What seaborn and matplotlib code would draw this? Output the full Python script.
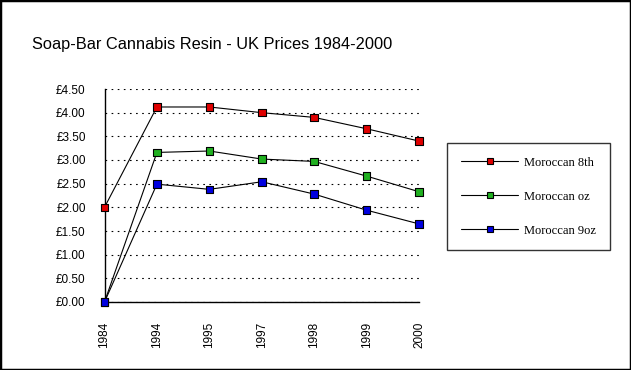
import seaborn as sns
import matplotlib.pyplot as plt
import pandas as pd
from matplotlib.lines import Line2D
from matplotlib.patches import Rectangle

years = ["1984", "1994", "1995", "1997", "1998", "1999", "2000"]
moroccan_8th = [2.00, 4.12, 4.12, 4.00, 3.90, 3.66, 3.40]
moroccan_oz = [0.00, 3.16, 3.19, 3.02, 2.97, 2.66, 2.33]
moroccan_9oz = [0.00, 2.49, 2.38, 2.54, 2.28, 1.94, 1.65]
series_names = ["Moroccan 8th", "Moroccan oz", "Moroccan 9oz"]
colors = ["#e00000", "#20b020", "#0000e0"]

df = pd.DataFrame({
    "year": years * 3,
    "price": moroccan_8th + moroccan_oz + moroccan_9oz,
    "series": [s for s in series_names for _ in years],
})

sns.set_style("white")
plt.rcParams['font.family'] = ['Liberation Sans', 'DejaVu Sans']

fig = plt.figure(figsize=(6.31, 3.70), dpi=100)
ax = fig.add_axes([104.5 / 631, 1 - 302 / 370, (419 - 104.5) / 631, (302 - 89) / 370])

sns.lineplot(data=df, x="year", y="price", units="series", estimator=None,
             color="black", lw=0.8, ax=ax, legend=False, sort=False)
sns.scatterplot(data=df, x="year", y="price", hue="series", palette=colors,
                marker="s", s=30, edgecolor="black", linewidth=0.8,
                ax=ax, legend=False, zorder=3, clip_on=False)

ax.set_xlim(0, len(years) - 1)
ax.set_ylim(0, 4.5)
ax.set_yticks([i * 0.5 for i in range(10)])
ax.set_yticklabels([f"£{i * 0.5:.2f}" for i in range(10)], fontsize=8.5)
ax.set_xticks(range(len(years)))
ax.set_xticklabels(years, rotation=90, fontsize=8.5)
ax.set_xlabel("")
ax.set_ylabel("")
ax.grid(axis="y", color="black", linestyle=(0, (1.5, 4)), lw=0.8)
ax.grid(axis="x", visible=False)
for side in ["top", "right"]:
    ax.spines[side].set_visible(False)
for side in ["left", "bottom"]:
    ax.spines[side].set_color("black")
    ax.spines[side].set_linewidth(1)
ax.tick_params(axis="x", direction="out", length=6, width=1, color="black", pad=8, labelcolor="black")
ax.tick_params(axis="y", direction="inout", length=7, width=1, color="black", pad=10, labelcolor="black")

fig.text(32 / 631, 1 - 49 / 370, "Soap-Bar Cannabis Resin - UK Prices 1984-2000",
         fontsize=11.8, color="black", ha="left", va="baseline")

handles = [Line2D([], [], color="black", lw=0.8, marker="s", markersize=4.5,
                  markerfacecolor=c, markeredgecolor="black", markeredgewidth=0.8)
           for c in colors]
leg = fig.legend(handles, series_names, loc="upper left",
                 bbox_to_anchor=(447 / 631, 1 - 143 / 370),
                 prop={"family": "Liberation Serif", "size": 9},
                 frameon=True, fancybox=False, borderaxespad=0,
                 handlelength=4.6, handletextpad=0.5, labelspacing=1.75,
                 borderpad=1.1, edgecolor="black")
leg.get_frame().set_linewidth(1)
for t in leg.get_texts():
    t.set_color("black")

fig.patches.append(Rectangle((0, 0), 1, 1, transform=fig.transFigure,
                             fill=False, edgecolor="black", lw=2.5))

fig.savefig("out.png", dpi=100)
